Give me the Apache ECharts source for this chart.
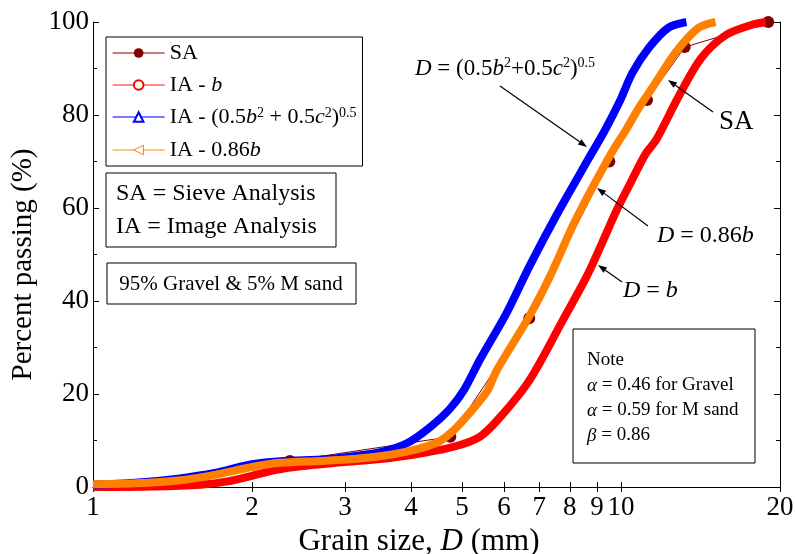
<!DOCTYPE html>
<html>
<head>
<meta charset="utf-8">
<script src="https://cdn.jsdelivr.net/npm/echarts@6/dist/echarts.min.js"></script>
<style>html,body{margin:0;padding:0;background:#fff}#c{width:795px;height:554px}</style>
</head>
<body>
<div id="c"></div>
<script>
// ---- data ----
const xTickValues = [1, 2, 3, 4, 5, 6, 7, 8, 9, 10, 20];
const saD = [1.18, 2.36, 4.75, 6.7, 9.5, 11.2, 13.2, 19];
const saP = [0.5, 5.6, 10.8, 36.3, 70.0, 83.2, 94.6, 100];
const iaBD = [1.0, 1.3, 1.6, 1.8, 2.0, 2.2, 2.5, 3.02, 3.5, 4.03, 4.8, 5.4, 5.9, 6.71, 7.76, 8.6, 9.2, 9.8, 10.4, 11.15, 11.65, 12.9, 14.2, 15.8, 17.7, 18.8];
const iaBP = [0.0, 0.1, 0.5, 1.2, 2.4, 3.6, 4.5, 5.4, 6.0, 6.9, 8.6, 10.8, 15.0, 23.0, 35.9, 45.2, 52.4, 59.4, 65.2, 71.8, 74.6, 84.3, 92.3, 97.2, 99.4, 100];
const iaEqD = [1.0, 1.2, 1.45, 1.7, 2.0, 2.3, 2.7, 3.0, 3.5, 3.93, 4.35, 4.74, 5.05, 5.4, 6.07, 6.71, 7.55, 8.72, 9.3, 9.95, 10.5, 11.3, 12.3, 13.3];
const iaEqP = [0.5, 0.9, 1.8, 3.0, 4.9, 5.6, 5.9, 6.4, 7.5, 9.4, 12.9, 16.8, 21.0, 27.3, 37.4, 47.5, 58.5, 71.0, 76.5, 83.0, 89.0, 94.5, 98.8, 100];
const ia086D = [1.0, 1.2, 1.45, 1.7, 2.0, 2.26, 2.7, 3.02, 3.5, 3.93, 4.3, 4.54, 4.8, 5.1, 5.57, 5.81, 6.71, 7.33, 8.2, 9.5, 10.24, 10.8, 11.45, 12.7, 14.0, 15.1];
const ia086P = [0.6, 0.8, 1.4, 2.6, 4.3, 5.2, 5.6, 5.9, 6.6, 7.6, 8.8, 9.9, 12.0, 15.2, 20.5, 25.0, 36.8, 45.2, 57.4, 71.0, 77.0, 81.5, 85.8, 93.5, 98.7, 100];

const zip = (a, b) => a.map((v, i) => [v, b[i]]);
const FONT = '"Liberation Serif", "Times New Roman", serif';

const chart = echarts.init(document.getElementById('c'), null, {renderer: 'canvas'});

const legendRich = {
  n: {fontFamily: FONT, fontSize: 22, lineHeight: 22, color: '#000'},
  i: {fontFamily: FONT, fontSize: 22, lineHeight: 22, fontStyle: 'italic', color: '#000'},
  s: {fontFamily: FONT, fontSize: 14, verticalAlign: 'top', lineHeight: 22, padding: [0, 0, 9, 0], color: '#000'}
};
const legendNames = {
  'SA': '{n|SA}',
  'IA - b': '{n|IA - }{i|b}',
  'IA - eq': '{n|IA - (0.5}{i|b}{s|2}{n| + 0.5}{i|c}{s|2}{n|)}{s|0.5}',
  'IA - 0.86b': '{n|IA - 0.86}{i|b}'
};

function arrow(x1, y1, x2, y2) {
  const ang = Math.atan2(y2 - y1, x2 - x1);
  const L = 9, W = 3.2;
  const bx = x2 - L * Math.cos(ang), by = y2 - L * Math.sin(ang);
  const px = -Math.sin(ang) * W, py = Math.cos(ang) * W;
  return [
    {type: 'line', shape: {x1: x1, y1: y1, x2: bx, y2: by}, style: {stroke: '#000', lineWidth: 1.2}, z: 100},
    {type: 'polygon', shape: {points: [[x2, y2], [bx + px, by + py], [bx - px, by - py]]}, style: {fill: '#000'}, z: 100}
  ];
}
function txt(x, y, rich, str, align) {
  return {type: 'text', x: x, y: y, z: 100, style: {text: str, rich: rich, textAlign: align || 'left', textVerticalAlign: 'middle'}};
}
function mkRich(size, supSize, supPad) {
  return {
    n: {fontFamily: FONT, fontSize: size, color: '#000'},
    i: {fontFamily: FONT, fontSize: size, fontStyle: 'italic', color: '#000'},
    s: {fontFamily: FONT, fontSize: supSize, verticalAlign: 'top', padding: [0, 0, supPad, 0], color: '#000'}
  };
}
const boxRich = {n: {fontFamily: FONT, fontSize: 24, color: '#000', lineHeight: 33}};
const noteRich = {
  n: {fontFamily: FONT, fontSize: 19, color: '#000', lineHeight: 25},
  i: {fontFamily: FONT, fontSize: 19, fontStyle: 'italic', color: '#000', lineHeight: 25}
};

const graphics = [].concat(
  [txt(415, 69, mkRich(23, 14, 11), '{i|D}{n| = (0.5}{i|b}{s|2}{n|+0.5}{i|c}{s|2}{n|)}{s|0.5}')],
  arrow(500, 86, 587, 147),
  [txt(719, 122, mkRich(27, 14, 10), '{n|SA}')],
  arrow(713, 112, 668, 80),
  [txt(657, 236, mkRich(24, 14, 10), '{i|D}{n| = 0.86}{i|b}')],
  arrow(648, 226, 597, 188),
  [txt(623, 291, mkRich(24, 14, 10), '{i|D}{n| = }{i|b}')],
  arrow(622, 282, 598, 265),
  [
    {type: 'rect', shape: {x: 106, y: 173, width: 230, height: 74}, style: {fill: '#fff', stroke: '#000', lineWidth: 1}, z: 90},
    txt(116, 210, boxRich, '{n|SA = Sieve Analysis}\n{n|IA = Image Analysis}'),
    {type: 'rect', shape: {x: 107, y: 263, width: 249, height: 41}, style: {fill: '#fff', stroke: '#000', lineWidth: 1}, z: 90},
    {type: 'text', x: 231, y: 284, z: 100, style: {text: '95% Gravel & 5% M sand', fontFamily: FONT, fontSize: 21, fill: '#000', textAlign: 'center', textVerticalAlign: 'middle'}},
    {type: 'rect', shape: {x: 573, y: 329, width: 182, height: 134}, style: {fill: '#fff', stroke: '#000', lineWidth: 1}, z: 90},
    txt(587, 398, noteRich, '{n|Note}\n{i|α}{n| = 0.46 for Gravel}\n{i|α}{n| = 0.59 for M sand}\n{i|β}{n| = 0.86}')
  ]
);

const axisLine = {show: true, lineStyle: {color: '#000', width: 1}};
const option = {
  animation: false,
  backgroundColor: '#fff',
  grid: {left: 93, right: 15, top: 22, bottom: 67, containLabel: false, outerBoundsMode: 'none'},
  legend: {
    orient: 'vertical', left: 106, top: 37,
    padding: [5, 6, 5, 6], itemGap: 10, itemWidth: 52, itemHeight: 12,
    backgroundColor: '#fff', borderColor: '#000', borderWidth: 1, borderRadius: 0,
    data: [
      {name: 'SA', lineStyle: {color: '#b05050', width: 1.3}},
      {name: 'IA - b', lineStyle: {color: '#ff6060', width: 1.3}},
      {name: 'IA - eq', lineStyle: {color: '#5050ff', width: 1.3}},
      {name: 'IA - 0.86b', lineStyle: {color: '#ffb060', width: 1.3}, itemStyle: {color: '#fff', borderColor: '#ff8000', borderWidth: 1}}
    ],
    formatter: n => legendNames[n],
    textStyle: {rich: legendRich, fontFamily: FONT, fontSize: 22, lineHeight: 22},
    selectedMode: false, z: 90
  },
  xAxis: [
    {type: 'log', logBase: 10, min: 1, max: 20, position: 'bottom',
     name: '{n|Grain size, }{i|D}{n| (mm)}', nameLocation: 'middle', nameGap: 35,
     nameTextStyle: {padding: [0, 35, 0, 0], rich: {n: {fontFamily: FONT, fontSize: 31, color: '#000'}, i: {fontFamily: FONT, fontSize: 31, fontStyle: 'italic', color: '#000'}}},
     axisLine: axisLine, splitLine: {show: false}, minorTick: {show: false},
     axisTick: {show: true, inside: true, length: 5, customValues: xTickValues, lineStyle: {color: '#000'}},
     axisLabel: {customValues: xTickValues, fontFamily: FONT, fontSize: 27, color: '#000', margin: 7, formatter: v => String(Math.round(v))}},
    {type: 'log', logBase: 10, min: 1, max: 20, position: 'top',
     axisLine: axisLine, splitLine: {show: false},
     axisTick: {show: true, inside: true, length: 5, customValues: xTickValues, lineStyle: {color: '#000'}},
     axisLabel: {show: false}}
  ],
  yAxis: [
    {type: 'value', min: 0, max: 100, interval: 20, position: 'left',
     name: 'Percent passing (%)', nameLocation: 'middle', nameGap: 46,
     nameTextStyle: {fontFamily: FONT, fontSize: 29, color: '#000', padding: [0, 20, 0, 0]},
     axisLine: axisLine, splitLine: {show: false},
     axisTick: {show: true, inside: true, length: 6, lineStyle: {color: '#000'}},
     minorTick: {show: true, splitNumber: 2, length: 4, lineStyle: {color: '#000'}},
     axisLabel: {fontFamily: FONT, fontSize: 27, color: '#000', margin: 4}},
    {type: 'value', min: 0, max: 100, interval: 20, position: 'right',
     axisLine: axisLine, splitLine: {show: false},
     axisTick: {show: true, inside: true, length: 6, lineStyle: {color: '#000'}},
     minorTick: {show: true, splitNumber: 2, length: 4, lineStyle: {color: '#000'}},
     axisLabel: {show: false}}
  ],
  series: [
    {name: 'SA', type: 'line', data: zip(saD, saP), z: 2,
     symbol: 'circle', symbolSize: 12, showSymbol: true,
     itemStyle: {color: '#800000'}, lineStyle: {color: '#800000', width: 1}},
    {name: 'IA - b', type: 'line', data: zip(iaBD, iaBP), z: 3, smooth: 0.3,
     symbol: 'emptyCircle', symbolSize: 8, showSymbol: false,
     itemStyle: {color: '#ff0000'}, lineStyle: {color: '#ff0000', width: 8}},
    {name: 'IA - eq', type: 'line', data: zip(iaEqD, iaEqP), z: 4, smooth: 0.3,
     symbol: 'emptyTriangle', symbolSize: 9, showSymbol: false,
     itemStyle: {color: '#0000ff'}, lineStyle: {color: '#0000ff', width: 8}},
    {name: 'IA - 0.86b', type: 'line', data: zip(ia086D, ia086P), z: 5, smooth: 0.3,
     symbol: 'path://M1,0 L0,0.5 L1,1 Z', symbolSize: 9, showSymbol: false,
     itemStyle: {color: '#ff8000'}, lineStyle: {color: '#ff8000', width: 8}}
  ],
  graphic: graphics
};
chart.setOption(option);
</script>
</body>
</html>
